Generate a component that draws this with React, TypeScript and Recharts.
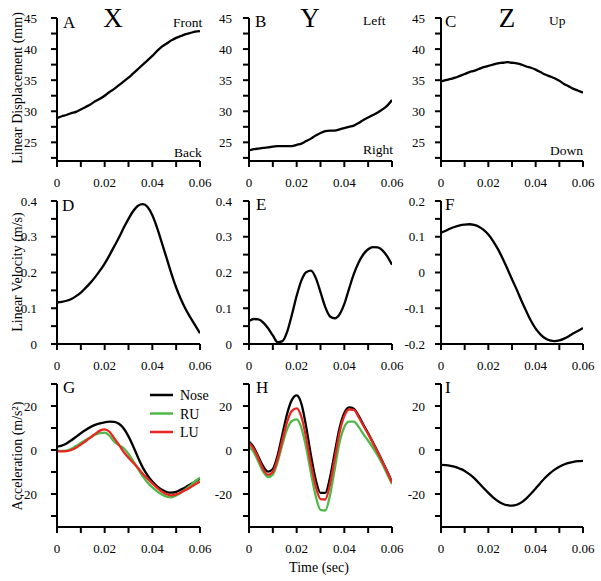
import React from 'react';
import { LineChart, Line, XAxis, YAxis } from 'recharts';

const FONT = '"Liberation Serif", "Times New Roman", serif';

// time (sec)
const time = [
  0, 0.002, 0.004, 0.006, 0.008, 0.01, 0.012, 0.014, 0.016, 0.018, 0.02,
  0.022, 0.024, 0.026, 0.028, 0.03, 0.032, 0.034, 0.036, 0.038, 0.04,
  0.042, 0.044, 0.046, 0.048, 0.05, 0.052, 0.054, 0.056, 0.058, 0.06,
];

// Linear displacement (mm)
const dispX = [
  28.9, 29.2, 29.4, 29.7, 29.9, 30.3, 30.7, 31.1, 31.6, 32.0, 32.5,
  33.1, 33.6, 34.2, 34.8, 35.4, 36.1, 36.8, 37.5, 38.2, 38.9,
  39.7, 40.4, 40.9, 41.4, 41.8, 42.1, 42.4, 42.6, 42.8, 42.9,
];
const dispY = [
  23.7, 23.9, 24.0, 24.1, 24.2, 24.3, 24.4, 24.4, 24.4, 24.4, 24.6,
  24.8, 25.2, 25.6, 26.1, 26.5, 26.8, 26.9, 26.9, 27.1, 27.3,
  27.5, 27.7, 28.1, 28.6, 29.0, 29.4, 29.8, 30.3, 30.9, 31.8,
];
const dispZ = [
  34.8, 35.0, 35.2, 35.4, 35.7, 36.0, 36.3, 36.5, 36.8, 37.1, 37.3,
  37.5, 37.7, 37.8, 37.9, 37.8, 37.7, 37.5, 37.2, 37.0, 36.7,
  36.3, 35.9, 35.6, 35.3, 34.9, 34.4, 34.0, 33.6, 33.3, 33.0,
];

// Linear velocity (m/s)
const velX = [
  0.116, 0.118, 0.121, 0.126, 0.134, 0.144, 0.157, 0.171, 0.187, 0.205, 0.225,
  0.248, 0.273, 0.298, 0.325, 0.350, 0.372, 0.387, 0.391, 0.383, 0.360,
  0.325, 0.283, 0.240, 0.197, 0.158, 0.125, 0.097, 0.074, 0.052, 0.030,
];
const velY = [
  0.064, 0.070, 0.069, 0.060, 0.044, 0.024, 0.005, 0.008, 0.034, 0.082, 0.135,
  0.178, 0.201, 0.205, 0.185, 0.145, 0.103, 0.077, 0.072, 0.083, 0.112,
  0.155, 0.196, 0.228, 0.251, 0.265, 0.271, 0.270, 0.262, 0.245, 0.222,
];
const velZ = [
  0.111, 0.117, 0.123, 0.128, 0.132, 0.134, 0.135, 0.133, 0.128, 0.119, 0.106,
  0.088, 0.066, 0.040, 0.011, -0.019, -0.048, -0.079, -0.108, -0.135, -0.157,
  -0.173, -0.184, -0.190, -0.192, -0.190, -0.185, -0.178, -0.170, -0.163, -0.155,
];

// Acceleration (m/s^2)
const accXNose = [
  1.5, 2.0, 3.0, 4.4, 6.0, 7.6, 9.1, 10.4, 11.4, 12.1, 12.6,
  12.9, 12.8, 11.9, 9.8, 6.2, 1.6, -3.4, -8.0, -11.5, -14.3,
  -16.5, -18.1, -19.1, -19.4, -19.0, -18.0, -16.9, -15.6, -14.3, -13.0,
];
const accXRU = [
  -0.3, -0.4, -0.3, 0.5, 1.8, 3.2, 4.6, 5.8, 6.9, 7.7, 7.9,
  6.5, 3.8, 2.2, 0.8, -1.8, -5.0, -8.6, -12.0, -14.8, -17.0,
  -18.8, -20.2, -21.2, -21.5, -20.7, -19.5, -17.8, -16.1, -14.2, -12.6,
];
const accXLU = [
  -0.5, -0.6, -0.5, 0.0, 1.0, 2.5, 4.0, 5.6, 7.3, 8.8, 9.4,
  8.3, 5.4, 2.3, -0.9, -3.5, -5.8, -8.2, -10.8, -13.0, -15.2,
  -17.2, -18.9, -20.1, -20.6, -20.2, -19.3, -18.2, -16.9, -15.6, -14.3,
];
const accYNose = [
  3.8, 1.2, -3.2, -7.5, -9.8, -8.6, -2.5, 7.0, 16.5, 22.8, 24.8,
  21.0, 10.5, -2.5, -13.5, -19.5, -19.5, -12.5, -1.0, 10.0, 16.8,
  19.4, 18.8, 15.5, 11.5, 7.6, 3.4, -0.8, -5.2, -9.8, -14.5,
];
const accYRU = [
  1.5, -1.0, -5.5, -10.0, -12.3, -11.2, -5.5, 2.5, 9.5, 13.2, 13.9,
  10.0, 1.0, -10.5, -21.0, -27.2, -27.5, -20.5, -8.5, 3.5, 10.5,
  12.9, 12.9, 10.5, 7.2, 4.2, 1.0, -2.5, -6.5, -11.0, -15.5,
];
const accYLU = [
  3.3, 0.5, -4.0, -8.8, -11.3, -10.0, -4.0, 4.5, 12.8, 17.8, 18.9,
  15.0, 5.5, -6.5, -16.5, -22.3, -22.5, -15.5, -3.8, 8.0, 15.5,
  18.4, 18.2, 15.0, 11.0, 7.2, 3.2, -1.0, -5.4, -10.0, -14.8,
];
const accZ = [
  -6.8, -6.9, -7.2, -7.7, -8.5, -9.5, -11.0, -12.8, -15.0, -17.3, -19.5,
  -21.5, -23.2, -24.4, -25.1, -25.3, -24.9, -23.8, -22.1, -19.9, -17.5,
  -15.0, -12.6, -10.6, -8.9, -7.6, -6.6, -5.9, -5.4, -5.1, -4.9,
];

// ticks
const timeTicks = [0, 0.01, 0.02, 0.03, 0.04, 0.05, 0.06];
const timeLabels = [0, 0.02, 0.04, 0.06];
const dispTicks = [22.5, 25, 27.5, 30, 32.5, 35, 37.5, 40, 42.5, 45];
const dispLabels = [25, 30, 35, 40, 45];
const velTicks = [0, 0.05, 0.1, 0.15, 0.2, 0.25, 0.3, 0.35, 0.4];
const velLabels = [0, 0.1, 0.2, 0.3, 0.4];
const velZTicks = [-0.2, -0.15, -0.1, -0.05, 0, 0.05, 0.1, 0.15, 0.2];
const velZLabels = [-0.2, -0.1, 0, 0.1, 0.2];
const accTicks = [-30, -20, -10, 0, 10, 20, 30];
const accLabels = [-20, 0, 20];

const seriesNames = ['Nose', 'RU', 'LU'];
const seriesColors = ['#000000', '#4fb848', '#e8261f'];

type Series = { key: string; values: number[]; color: string };

const fmt = (arr: number[]) => (v: number) =>
  arr.some((a) => Math.abs(a - v) < 1e-9) ? String(v) : '';

const ML = 50, MT = 10, MR = 15, XH = 40;

function Panel(props: {
  L: number; R: number; T: number; B: number;
  domain: [number, number]; ticks: number[]; labels: number[];
  series: Series[]; gap: number;
}) {
  const { L, R, T, B, domain, ticks, labels, series, gap } = props;
  const data = time.map((t, i) => {
    const row: Record<string, number> = { t };
    series.forEach((s) => { row[s.key] = s.values[i]; });
    return row;
  });
  const axisLine = { stroke: '#000', strokeWidth: 2 };
  const axisY = MT + (B - T);
  const xf = fmt(timeLabels);
  const yf = fmt(labels);
  const XTick = (p: any) => (
    <text x={p.x} y={axisY + 26} textAnchor="middle" fontSize={13} fontFamily={FONT} fill="#000">
      {xf(p.payload.value)}
    </text>
  );
  const YTick = (p: any) => (
    <text x={ML - gap} y={p.y + 4.5} textAnchor="end" fontSize={13} fontFamily={FONT} fill="#000">
      {yf(p.payload.value)}
    </text>
  );
  return (
    <div style={{ position: 'absolute', left: L - ML, top: T - MT }}>
      <LineChart
        width={R - L + ML + MR}
        height={B - T + MT + XH}
        data={data}
        margin={{ top: MT, right: MR, bottom: 0, left: 0 }}
      >
        <XAxis
          dataKey="t" type="number" domain={[0, 0.06]} ticks={timeTicks}
          height={XH} tickSize={6}
          axisLine={axisLine} tickLine={axisLine} tick={XTick}
          interval={0} allowDataOverflow
        />
        <YAxis
          type="number" domain={domain} ticks={ticks}
          width={ML} tickSize={6}
          axisLine={axisLine} tickLine={axisLine} tick={YTick}
          interval={0} allowDataOverflow
        />
        {series.map((s) => (
          <Line
            key={s.key} dataKey={s.key} type="monotone" stroke={s.color}
            strokeWidth={2.3} dot={false} isAnimationActive={false}
          />
        ))}
      </LineChart>
    </div>
  );
}

const cols = [
  { L: 57, R: 200, gap: 20 },
  { L: 249, R: 392, gap: 17 },
  { L: 441, R: 583, gap: 16 },
];
const rows = [
  { T: 18, B: 161 },
  { T: 201, B: 344 },
  { T: 384, B: 527 },
];

export default function App() {
  const k = (v: number[]) => [{ key: 'v', values: v, color: '#000' }];
  const three = (a: number[], b: number[], c: number[]) =>
    [a, b, c].map((v, i) => ({ key: seriesNames[i], values: v, color: seriesColors[i] }));
  const panels = [
    { c: 0, r: 0, domain: [22, 45], ticks: dispTicks, labels: dispLabels, series: k(dispX) },
    { c: 1, r: 0, domain: [22, 45], ticks: dispTicks, labels: dispLabels, series: k(dispY) },
    { c: 2, r: 0, domain: [22, 45], ticks: dispTicks, labels: dispLabels, series: k(dispZ) },
    { c: 0, r: 1, domain: [0, 0.4], ticks: velTicks, labels: velLabels, series: k(velX) },
    { c: 1, r: 1, domain: [0, 0.4], ticks: velTicks, labels: velLabels, series: k(velY) },
    { c: 2, r: 1, domain: [-0.2, 0.2], ticks: velZTicks, labels: velZLabels, series: k(velZ) },
    { c: 0, r: 2, domain: [-35, 30], ticks: accTicks, labels: accLabels, series: three(accXNose, accXRU, accXLU) },
    { c: 1, r: 2, domain: [-35, 30], ticks: accTicks, labels: accLabels, series: three(accYNose, accYRU, accYLU) },
    { c: 2, r: 2, domain: [-35, 30], ticks: accTicks, labels: accLabels, series: k(accZ) },
  ];
  const letters = ['A', 'B', 'C', 'D', 'E', 'F', 'G', 'H', 'I'];
  const letterPos = [
    [63, 28], [255, 27], [445, 27],
    [62, 211], [256, 210], [445, 210],
    [63, 393], [256, 393], [445, 393],
  ];
  const txt = { fontFamily: FONT, fill: '#000' } as const;
  return (
    <div style={{ position: 'absolute', left: 0, top: 0, width: 601, height: 581, background: '#fff' }}>
      {panels.map((p, i) => (
        <Panel
          key={i}
          L={cols[p.c].L} R={cols[p.c].R} gap={cols[p.c].gap}
          T={rows[p.r].T} B={rows[p.r].B}
          domain={p.domain as [number, number]} ticks={p.ticks} labels={p.labels}
          series={p.series}
        />
      ))}
      <svg width={601} height={581} style={{ position: 'absolute', left: 0, top: 0, pointerEvents: 'none' }}>
        {letters.map((l, i) => (
          <text key={l} x={letterPos[i][0]} y={letterPos[i][1]} fontSize={17} {...txt}>{l}</text>
        ))}
        <text x={113} y={27} fontSize={27} textAnchor="middle" {...txt}>X</text>
        <text x={310} y={27} fontSize={27} textAnchor="middle" {...txt}>Y</text>
        <text x={507} y={27} fontSize={27} textAnchor="middle" {...txt}>Z</text>
        <text x={173} y={27} fontSize={13.5} {...txt}>Front</text>
        <text x={174} y={157} fontSize={13.5} {...txt}>Back</text>
        <text x={363} y={25} fontSize={13.5} {...txt}>Left</text>
        <text x={363} y={154} fontSize={13.5} {...txt}>Right</text>
        <text x={549} y={25} fontSize={13.5} {...txt}>Up</text>
        <text x={550} y={155} fontSize={13.5} {...txt}>Down</text>
        <text transform="translate(17,88) rotate(-90)" fontSize={14} textAnchor="middle" dominantBaseline="central" {...txt}>Linear Displacement (mm)</text>
        <text transform="translate(17,272) rotate(-90)" fontSize={14} textAnchor="middle" dominantBaseline="central" {...txt}>Linear Velocity (m/s)</text>
        <text transform="translate(17,456) rotate(-90)" fontSize={14} textAnchor="middle" dominantBaseline="central" {...txt}>Acceleration (m/s²)</text>
        <text x={319} y={572} fontSize={14} textAnchor="middle" {...txt}>Time (sec)</text>
        {seriesNames.map((n, i) => (
          <g key={n}>
            <line x1={150} x2={173} y1={395 + i * 18.5} y2={395 + i * 18.5} stroke={seriesColors[i]} strokeWidth={2.5} />
            <text x={180} y={400 + i * 18.5} fontSize={14} {...txt}>{n}</text>
          </g>
        ))}
      </svg>
    </div>
  );
}
